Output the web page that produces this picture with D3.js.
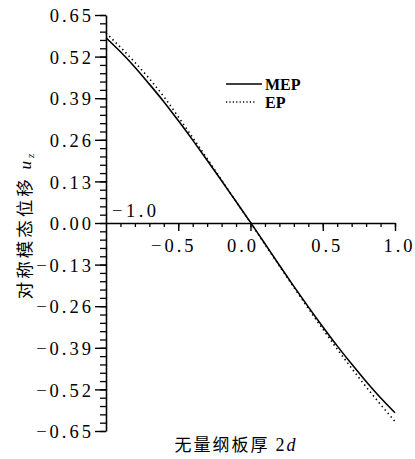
<!DOCTYPE html>
<html>
<head>
<meta charset="utf-8">
<script src="https://cdn.jsdelivr.net/npm/d3@7"></script>
<style>
  html, body { margin: 0; padding: 0; background: #fff; }
  svg { display: block; }
</style>
</head>
<body>
<svg id="chart" width="415" height="459"></svg>
<script>
// ---- data ----
const xValues = [-1.0, -0.9, -0.8, -0.7, -0.6, -0.5, -0.4, -0.3, -0.2, -0.1, 0.0,
                 0.1, 0.2, 0.3, 0.4, 0.5, 0.6, 0.7, 0.8, 0.9, 1.0];
const mepValues = [0.579, 0.535, 0.487, 0.434, 0.379, 0.320, 0.259, 0.196, 0.132, 0.067, 0.002,
                   -0.065, -0.132, -0.198, -0.262, -0.324, -0.384, -0.441, -0.495, -0.546, -0.593];
const epValues = [0.594, 0.549, 0.502, 0.451, 0.395, 0.332, 0.267, 0.201, 0.134, 0.067, 0.001,
                  -0.067, -0.134, -0.201, -0.267, -0.331, -0.394, -0.454, -0.512, -0.567, -0.620];
const seriesNames = ["MEP", "EP"];
const yTickValues = [0.65, 0.52, 0.39, 0.26, 0.13, 0.00, -0.13, -0.26, -0.39, -0.52, -0.65];
const yTickLabels = ["0.65", "0.52", "0.39", "0.26", "0.13", "0.00", "−0.13", "−0.26", "−0.39", "−0.52", "−0.65"];
const xTickValues = [-0.5, 0.0, 0.5, 1.0];
const xTickLabels = ["−0.5", "0.0", "0.5", "1.0"];
const xEndLabel = "−1.0";
const xTitle = "无量纲板厚 ";
const yTitle = "对称模态位移 ";

// ---- layout ----
const svg = d3.select("#chart");
const x = d3.scaleLinear().domain([-1, 1]).range([106, 395]);
const y = d3.scaleLinear().domain([-0.65, 0.65]).range([431, 15]);
const serif = "'Liberation Serif', 'Times New Roman', serif";
const cjk = "'Noto Sans CJK SC', sans-serif";
const tickFont = 18.5;

// Y axis
const yMinor = d3.range(-25, 26).map(i => i * 0.026);
svg.append("g").attr("transform", `translate(${x(-1)},0)`)
  .call(d3.axisLeft(y).tickValues(yMinor).tickSize(6).tickFormat(""))
  .call(g => g.select(".domain").remove())
  .selectAll("line").attr("stroke", "#000").attr("stroke-width", 1.3);
const yAx = svg.append("g").attr("transform", `translate(${x(-1)},0)`)
  .call(d3.axisLeft(y).tickValues(yTickValues).tickSize(11).tickSizeOuter(0)
    .tickFormat((d, i) => yTickLabels[i]));
yAx.select(".domain").attr("stroke", "#000").attr("stroke-width", 1.6);
yAx.selectAll("line").attr("stroke", "#000").attr("stroke-width", 1.4);
yAx.selectAll("text").attr("font-family", serif).attr("font-size", tickFont)
  .attr("fill", "#000").attr("letter-spacing", "3px").attr("x", -12).attr("dy", "0.36em");

// X axis (at y = 0)
const xMinor = d3.range(-9, 11).map(i => i * 0.1);
svg.append("g").attr("transform", `translate(0,${y(0)})`)
  .call(d3.axisBottom(x).tickValues(xMinor).tickSize(4).tickFormat(""))
  .call(g => g.select(".domain").remove())
  .selectAll("line").attr("stroke", "#000").attr("stroke-width", 1.3);
const xAx = svg.append("g").attr("transform", `translate(0,${y(0)})`)
  .call(d3.axisBottom(x).tickValues(xTickValues).tickSize(8).tickSizeOuter(0)
    .tickFormat((d, i) => xTickLabels[i]));
xAx.select(".domain").attr("stroke", "#000").attr("stroke-width", 1.6);
xAx.selectAll("line").attr("stroke", "#000").attr("stroke-width", 1.4);
xAx.selectAll("text").attr("font-family", serif).attr("font-size", tickFont)
  .attr("fill", "#000").attr("letter-spacing", "3px").attr("y", 16).attr("dy", "0.71em")
  .attr("dx", d => d === 0 ? -8 : (d < 0 ? -5 : 4));
svg.append("text").attr("x", x(-1) + 6).attr("y", y(0) - 6)
  .attr("font-family", serif).attr("font-size", tickFont).attr("letter-spacing", "3.5px")
  .text(xEndLabel);

// Curves
const line = d3.line().x(d => x(d[0])).y(d => y(d[1])).curve(d3.curveMonotoneX);
const mepData = xValues.map((v, i) => [v, mepValues[i]]);
const epData = xValues.map((v, i) => [v, epValues[i]]);
svg.append("path").datum(epData).attr("d", line).attr("fill", "none")
  .attr("stroke", "#000").attr("stroke-width", 1.6).attr("stroke-dasharray", "1.4,3.2");
svg.append("path").datum(mepData).attr("d", line).attr("fill", "none")
  .attr("stroke", "#000").attr("stroke-width", 1.6);

// Legend
const legend = svg.append("g").attr("transform", "translate(226,84)");
seriesNames.forEach((name, i) => {
  legend.append("line").attr("x1", 0).attr("x2", i === 0 ? 36 : 30)
    .attr("y1", i * 18).attr("y2", i * 18).attr("stroke", "#000").attr("stroke-width", 1.5)
    .attr("stroke-dasharray", i === 0 ? null : "1.2,2.2");
  legend.append("text").attr("x", 39).attr("y", i * 18 + 6)
    .attr("font-family", serif).attr("font-size", 16).attr("font-weight", "bold")
    .text(name);
});

// Axis titles
const xt = svg.append("text").attr("x", 236).attr("y", 451).attr("text-anchor", "middle")
  .attr("font-family", cjk).attr("font-size", 17).attr("letter-spacing", "2px");
xt.append("tspan").text(xTitle);
xt.append("tspan").attr("font-family", serif).attr("font-size", 18).text("2");
xt.append("tspan").attr("font-family", serif).attr("font-style", "italic").attr("font-size", 18).text("d");

const yt = svg.append("text").attr("transform", "translate(31,225) rotate(-90)")
  .attr("text-anchor", "middle").attr("font-family", cjk).attr("font-size", 17.5)
  .attr("letter-spacing", "3px");
yt.append("tspan").text(yTitle);
yt.append("tspan").attr("font-family", serif).attr("font-style", "italic").attr("font-size", 17).text("u");
yt.append("tspan").attr("font-family", serif).attr("font-style", "italic").attr("font-size", 11)
  .attr("dy", 3).text("z");
</script>
</body>
</html>
